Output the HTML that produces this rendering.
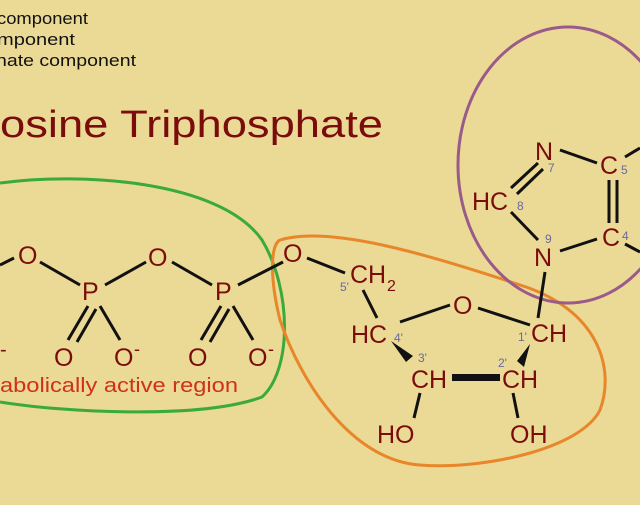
<!DOCTYPE html>
<html><head><meta charset="utf-8"><style>
body{margin:0;width:640px;height:505px;overflow:hidden;background:#ebd996;}
svg{display:block}
text{font-family:"Comic Sans MS","Liberation Sans",sans-serif;}
.a{fill:#7a0c0c;font-size:25px;}
.n{fill:#6a6aa0;font-size:12px;}
</style></head><body>
<svg width="640" height="505" viewBox="0 0 640 505">
<rect width="640" height="505" fill="#ebd996"/>
<g font-size="17" fill="#111">
<text x="-3" y="24" textLength="91" lengthAdjust="spacingAndGlyphs">component</text>
<text x="-3" y="45" textLength="78" lengthAdjust="spacingAndGlyphs">mponent</text>
<text x="-4" y="66" textLength="140" lengthAdjust="spacingAndGlyphs">hate component</text>
</g>
<text x="0" y="137" font-size="38" fill="#7a0c0c" textLength="383" lengthAdjust="spacingAndGlyphs">osine Triphosphate</text>
<!-- loops -->
<path d="M0,183 C80,172 220,180 262,240 C292,290 292,370 262,397 C200,420 60,412 0,402" fill="none" stroke="#3aaa3a" stroke-width="3"/>
<path d="M280,240 C330,225 430,255 520,285 C600,310 615,370 600,410 C580,450 480,470 420,465 C350,460 300,380 280,320 C270,280 270,245 280,240 Z" fill="none" stroke="#e8862a" stroke-width="3"/>
<ellipse cx="568" cy="165" rx="110" ry="138" fill="none" stroke="#9a5a8a" stroke-width="3"/>
<!-- bonds -->
<g stroke="#111" stroke-width="3" fill="none">
<line x1="0" y1="265" x2="14" y2="258"/>
<line x1="40" y1="262" x2="80" y2="285"/>
<line x1="105" y1="285" x2="146" y2="262"/>
<line x1="172" y1="262" x2="212" y2="285"/>
<line x1="238" y1="285" x2="283" y2="262"/>
<line x1="307" y1="258" x2="345" y2="273"/>
<line x1="88" y1="306" x2="68" y2="340"/><line x1="96" y1="309" x2="77" y2="342"/>
<line x1="100" y1="306" x2="120" y2="340"/>
<line x1="221" y1="306" x2="201" y2="340"/><line x1="229" y1="309" x2="210" y2="342"/>
<line x1="233" y1="306" x2="253" y2="340"/>
<line x1="363" y1="290" x2="377" y2="318"/>
<line x1="400" y1="322" x2="450" y2="305"/>
<line x1="478" y1="308" x2="530" y2="325"/>
<line x1="420" y1="393" x2="414" y2="418"/>
<line x1="513" y1="393" x2="518" y2="418"/>
<line x1="560" y1="150" x2="597" y2="163"/>
<line x1="511" y1="188" x2="538" y2="163"/><line x1="517" y1="194" x2="543" y2="169"/>
<line x1="511" y1="212" x2="538" y2="240"/>
<line x1="560" y1="251" x2="597" y2="239"/>
<line x1="609" y1="180" x2="609" y2="223"/><line x1="617" y1="180" x2="617" y2="223"/>
<line x1="625" y1="157" x2="640" y2="148"/><line x1="625" y1="244" x2="640" y2="252"/>
<line x1="545" y1="272" x2="538" y2="318"/>
</g>
<polygon points="391,341 406,362 413,356" fill="#111"/>
<polygon points="530,344 517,361 524,367" fill="#111"/>
<rect x="452" y="374" width="48" height="7" fill="#111"/>
<!-- atoms -->
<g class="a">
<text x="18" y="264">O</text>
<text x="82" y="300">P</text>
<text x="148" y="266">O</text>
<text x="215" y="300">P</text>
<text x="283" y="262">O</text>
<text x="0" y="356" font-size="20">-</text>
<text x="54" y="366">O</text>
<text x="114" y="366">O</text><text x="134" y="355" font-size="18">-</text>
<text x="188" y="366">O</text>
<text x="248" y="366">O</text><text x="268" y="355" font-size="18">-</text>
<text x="350" y="283">CH</text><text x="387" y="291" font-size="16">2</text>
<text x="453" y="314">O</text>
<text x="351" y="343">HC</text>
<text x="531" y="342">CH</text>
<text x="411" y="388">CH</text>
<text x="502" y="388">CH</text>
<text x="377" y="443">HO</text>
<text x="510" y="443">OH</text>
<text x="535" y="160">N</text>
<text x="600" y="174">C</text>
<text x="472" y="210">HC</text>
<text x="534" y="266">N</text>
<text x="602" y="246">C</text>
</g>
<text x="0" y="392" font-size="20" fill="#d0301e" textLength="238" lengthAdjust="spacingAndGlyphs">abolically active region</text>
<g class="n">
<text x="340" y="291">5'</text><text x="394" y="342">4'</text>
<text x="518" y="341">1'</text><text x="418" y="362">3'</text><text x="498" y="367">2'</text>
<text x="548" y="172">7</text><text x="621" y="174">5</text><text x="517" y="210">8</text>
<text x="545" y="243">9</text><text x="622" y="240">4</text>
</g>
</svg>
</body></html>
